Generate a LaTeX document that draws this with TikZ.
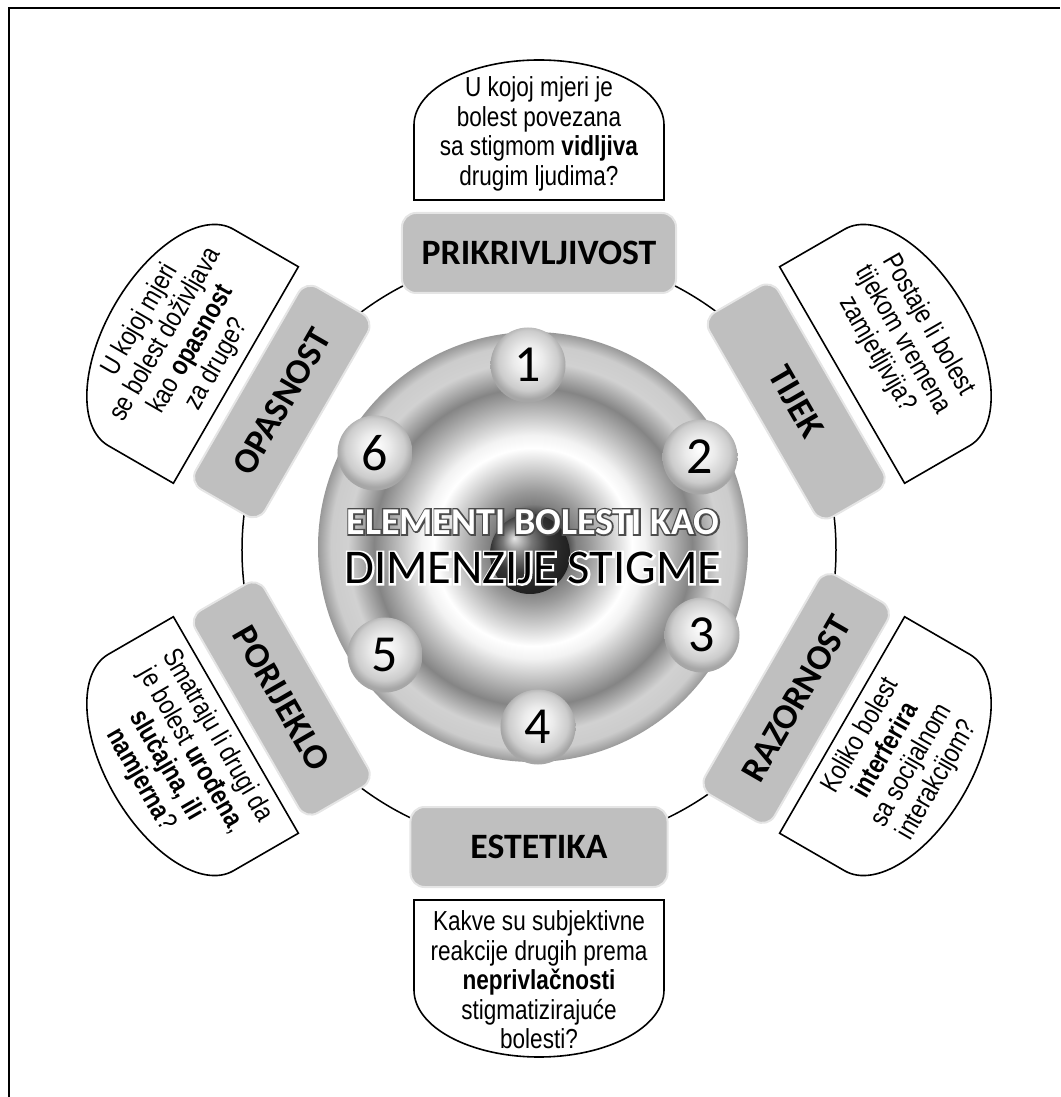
\documentclass[tikz,border=0pt]{standalone}
\usepackage{fontspec}
\setmainfont{Carlito}
\newfontfamily\narrowfont{Liberation Sans}[FakeStretch=0.82]
\newfontfamily\glowfont{Carlito}[FakeBold=8]

% shadings for the disc and the numbered balls
\pgfdeclareradialshading{discshade}{\pgfpointorigin}{%
  color(0bp)=(black!80); color(4bp)=(black!70); color(5bp)=(black!50);
  color(6.5bp)=(black!40); color(11.5bp)=(white); color(13bp)=(white!95!black);
  color(18.5bp)=(black!48); color(21.5bp)=(black!18); color(23.5bp)=(black!20);
  color(25bp)=(black!40); color(50bp)=(black!40)}
\pgfdeclareradialshading{ballshade}{\pgfpoint{0bp}{5bp}}{%
  color(0bp)=(white); color(10bp)=(black!8); color(20bp)=(black!20);
  color(25bp)=(black!35); color(50bp)=(black!35)}

\tikzset{
  dimbar/.style={rounded corners=14pt, minimum height=80pt, fill=black!25,
    draw=black!10, line width=2pt, inner sep=0pt,
    font=\bfseries\fontsize{35.7}{36}\selectfont},
  askline/.style={line width=1.6pt, fill=white},
  asktext/.style={align=center, inner sep=0pt,
    font=\narrowfont\fontsize{27.5}{29.5}\selectfont},
  numdot/.style={circle, minimum size=75pt, inner sep=0pt, shading=ballshade,
    font=\fontsize{52}{52}\selectfont},
  title/.style={inner sep=0pt},
}

% callout: #1 angle, #2 straight side, #3 height of the round end
\newcommand{\askbox}[3]{%
  \draw[askline, rotate=#1-90] (-125,350) -- (-125,350+#2)
    arc[start angle=180, end angle=0, x radius=125, y radius=#3]
    -- (125,350) -- cycle;}

\begin{document}
\begin{tikzpicture}[x=1pt,y=1pt]
\useasboundingbox (-539,-547) rectangle (521,550);

% frame
\draw[line width=1.5pt] (-530,-547) -- (-530,542) -- (521,542);

\draw[line width=1.5pt] (0,0) circle (297);

% callouts
\askbox{90}{75}{65}
\askbox{30}{75}{65}
\askbox{-30}{75}{65}
\askbox{-90}{90}{67}
\askbox{-150}{75}{65}
\askbox{150}{75}{65}

\node[asktext] (q1) at (90:416) {U kojoj mjeri je\\bolest povezana\\sa stigmom \textbf{vidljiva}\\drugim ljudima?};
\node[asktext, rotate=-60] (q2) at (30:420) {Postaje li bolest\\tijekom vremena\\zamjetljivija?};
\node[asktext, rotate=60] (q3) at (-30:416) {Koliko bolest\\\textbf{interferira}\\sa socijalnom\\interakcijom?};
\node[asktext] (q4) at (-90:430) {Kakve su subjektivne\\reakcije drugih prema\\\textbf{neprivlačnosti}\\stigmatizirajuće\\bolesti?};
\node[asktext, rotate=-60] (q5) at (210:416) {Smatraju li drugi da\\je bolest \textbf{urođena},\\\textbf{slučajna, ili}\\\textbf{namjerna}?};
\node[asktext, rotate=60] (q6) at (150:416) {U kojoj mjeri\\se bolest doživljava\\kao \textbf{opasnost}\\za druge?};

% bars on the ring
\node[dimbar, minimum width=274pt] (prikriv) at (90:297) {PRIKRIVLJIVOST};
\node[dimbar, minimum width=236pt, rotate=-60] (tijek) at (30:297) {TIJEK};
\node[dimbar, minimum width=253pt, rotate=60] (razorn) at (-30:297) {RAZORNOST};
\node[dimbar, minimum width=257pt] (estet) at (-90:297) {ESTETIKA};
\node[dimbar, minimum width=234pt, rotate=-60] (porij) at (210:297) {PORIJEKLO};
\node[dimbar, minimum width=233pt, rotate=60] (opasn) at (150:297) {OPASNOST};

% centre disc
\node[circle, minimum size=430pt, shading=discshade] (disc) at (-6,3) {};
\shade[ball color=black!70] (-9,-4) circle (40);

\node[numdot] (n1) at (-11,185) {1};
\node[numdot] (n2) at (161,93) {2};
\node[numdot] (n3) at (163,-85) {3};
\node[numdot] (n4) at (-1,-177) {4};
\node[numdot] (n5) at (-154,-105) {5};
\node[numdot] (n6) at (-164,97) {6};

% title with outlined letters
\node[title, font=\glowfont\bfseries\fontsize{38}{40}\selectfont, text=black!70] (glow1) at (-6,28) {ELEMENTI BOLESTI KAO};
\node[title, font=\bfseries\fontsize{38}{40}\selectfont, text=white] (title1) at (glow1) {ELEMENTI BOLESTI KAO};
\node[title, font=\glowfont\fontsize{48.5}{50}\selectfont, text=white] (glow2) at (-6,-18) {DIMENZIJE STIGME};
\node[title, font=\fontsize{48.5}{50}\selectfont] (title2) at (glow2) {DIMENZIJE STIGME};

\end{tikzpicture}
\end{document}
